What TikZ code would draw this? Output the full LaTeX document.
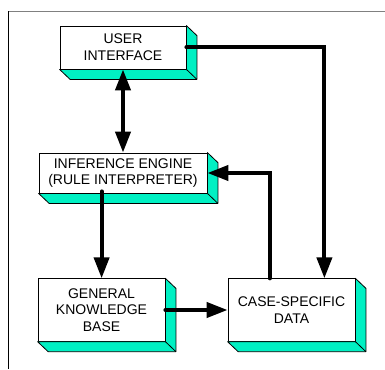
\documentclass[tikz,border=0pt]{standalone}
\usepackage{fontspec}
\setmainfont{Liberation Sans}
\usetikzlibrary{arrows.meta,calc}
\definecolor{sidegreen}{RGB}{0,240,195}
\tikzset{
  frontbox/.style={draw=black, line width=0.8pt, fill=white, align=center,
    inner sep=0pt, font=\fontsize{14}{16.7}\selectfont},
  sideface/.style={draw=black, line width=0.8pt, fill=sidegreen, line join=round},
  conn/.style={line width=4pt, line cap=round},
  tip/.style={-{Triangle[length=21pt,width=15pt]}},
  twotip/.style={{Triangle[length=21pt,width=15pt]}-{Triangle[length=21pt,width=15pt]}}
}
\begin{document}
\begin{tikzpicture}[x=1pt,y=-1pt]
\useasboundingbox (0,0) rectangle (385,369);
% page frame
\draw[gray, line width=1.3pt] (8,11.5) -- (385,11.5);
\draw[black, line width=1pt] (8,11.5) -- (8,369);

% front faces
\node[frontbox, minimum width=126pt, minimum height=43pt] (ui)  at (123,47.5) {USER\\INTERFACE};
\node[frontbox, minimum width=168pt, minimum height=40pt] (ie)  at (123,173)  {INFERENCE ENGINE\\(RULE INTERPRETER)};
\node[frontbox, minimum width=127pt, minimum height=62.5pt] (gkb) at (101.5,310) {GENERAL\\KNOWLEDGE\\BASE};
\node[frontbox, minimum width=127pt, minimum height=62.5pt] (csd) at (291.5,310) {CASE-SPECIFIC\\DATA};

% extruded sides
\foreach \n in {ui,ie,gkb,csd}{
  \filldraw[sideface] (\n.north east) -- ++(10.5,10)
    -- ($(\n.south east)+(10.5,10)$) -- ($(\n.south west)+(10.5,10)$)
    -- (\n.south west) -- (\n.south east) -- cycle;
  \draw[line width=0.8pt] (\n.south east) -- ++(10.5,10);
}

% connectors
\coordinate (iedown) at ($(ie.south west)+(63,-2)$);
\coordinate (csdup)  at ($(csd.north west)+(42,0)$);
\coordinate (csdin)  at ($(csd.north east)+(-31,0)$);
\draw[conn, twotip] (ui.south) -- (ie.north);
\draw[conn, tip] (iedown) -- (iedown |- gkb.north);
\draw[conn, tip] (gkb.east) -- (csd.west);
\draw[conn, tip, line join=miter] (csdup) |- (ie.east);
\draw[conn, tip, line join=miter] (ui.east) -| (csdin);
\end{tikzpicture}
\end{document}
